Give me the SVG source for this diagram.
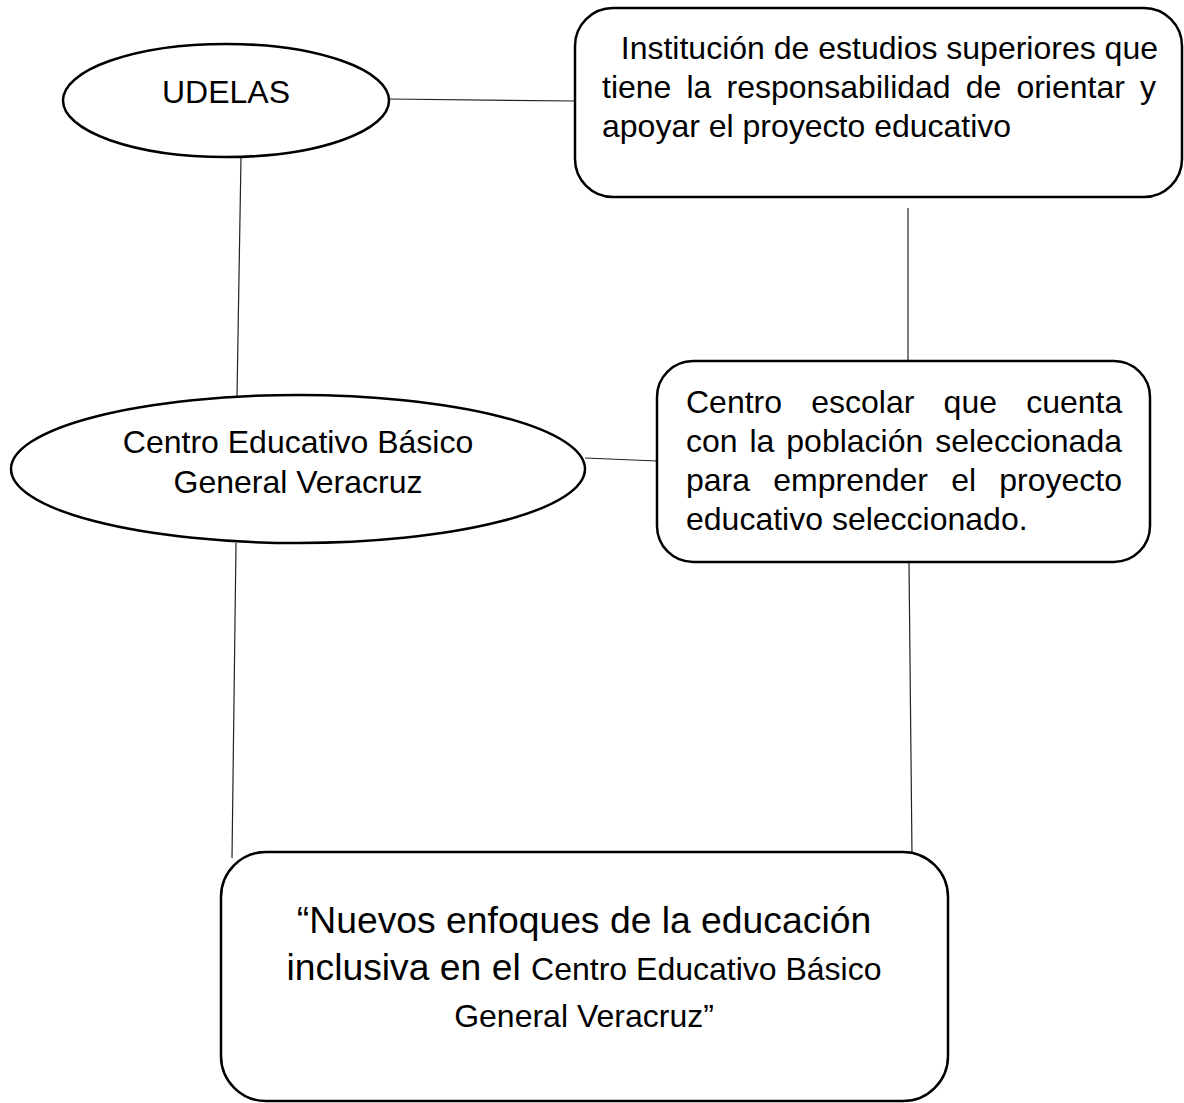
<svg xmlns="http://www.w3.org/2000/svg" width="1184" height="1103" viewBox="0 0 1184 1103">
<style>
.shape{fill:#fff;stroke:#000;stroke-width:2.5}
.conn{stroke:#222;stroke-width:1.2;fill:none}
text{font-family:"Liberation Sans",Arial,sans-serif;font-size:32px;fill:#000}
.big{font-size:37.3px}
.mid{text-anchor:middle}
</style>
<rect width="1184" height="1103" fill="#fff"/>
<g id="connectors">
<line class="conn" x1="389" y1="99" x2="575" y2="101"/>
<line class="conn" x1="241" y1="157" x2="237" y2="396"/>
<line class="conn" x1="908" y1="208" x2="908" y2="361"/>
<line class="conn" x1="585" y1="458" x2="657" y2="461"/>
<line class="conn" x1="909" y1="563" x2="912" y2="855"/>
<line class="conn" x1="236" y1="543" x2="232" y2="858"/>
</g>
<g id="udelas">
<ellipse class="shape" cx="226" cy="100.5" rx="163" ry="56.5"/>
<text class="mid" x="226" y="103">UDELAS</text>
</g>
<g id="institucion">
<rect class="shape" x="575" y="8" width="607" height="189" rx="38"/>
<text x="1158" y="59" text-anchor="end">Institución de estudios superiores que</text>
<text x="602" y="98" word-spacing="6.2">tiene la responsabilidad de orientar y</text>
<text x="602" y="137">apoyar el proyecto educativo</text>
</g>
<g id="centro-educativo">
<ellipse class="shape" cx="298" cy="469" rx="287" ry="74"/>
<text class="mid" x="298" y="453">Centro Educativo Básico</text>
<text class="mid" x="298" y="493">General Veracruz</text>
</g>
<g id="centro-escolar">
<rect class="shape" x="657" y="361" width="493" height="201" rx="36"/>
<text x="686" y="413" word-spacing="20.3">Centro escolar que cuenta</text>
<text x="686" y="452" word-spacing="3">con la población seleccionada</text>
<text x="686" y="491" word-spacing="14.3">para emprender el proyecto</text>
<text x="686" y="530">educativo seleccionado.</text>
</g>
<g id="titulo">
<rect class="shape" x="221" y="852" width="727" height="249" rx="45"/>
<text class="mid big" x="584" y="933">“Nuevos enfoques de la educación</text>
<text class="mid" x="584" y="980"><tspan class="big">inclusiva en el </tspan>Centro Educativo Básico</text>
<text class="mid" x="584" y="1027">General Veracruz”</text>
</g>
</svg>
